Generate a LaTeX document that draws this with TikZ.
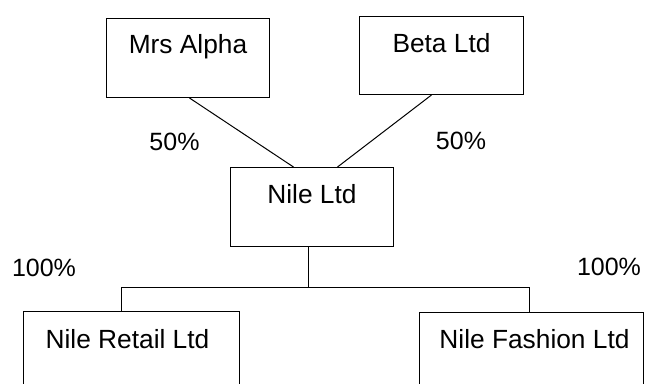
\documentclass[tikz,border=0pt]{standalone}
\usepackage{fontspec}
\setmainfont{Liberation Sans}
\usetikzlibrary{calc}
\begin{document}
\begin{tikzpicture}[x=1pt,y=-1pt,
  box/.style={draw=black, line width=1pt, rectangle, inner sep=0pt, anchor=north west},
  txt/.style={anchor=base, inner sep=0pt, font=\fontsize{26.3}{30}\selectfont},
  pct/.style={anchor=base, inner sep=0pt, font=\fontsize{25}{30}\selectfont},
  conn/.style={draw=black, line width=1pt}]
\useasboundingbox (0,0) rectangle (645,383);
\clip (0,0) rectangle (645,383);
% boxes
\node[box, minimum width=163pt, minimum height=79pt] (alpha) at (106,18) {};
\node[box, minimum width=164pt, minimum height=78pt] (beta) at (359,16) {};
\node[box, minimum width=163pt, minimum height=79pt] (nile) at (230,167) {};
\node[box, minimum width=216pt, minimum height=100pt] (retail) at (23,311) {};
\node[box, minimum width=224pt, minimum height=100pt] (fashion) at (419,312) {};
% box texts
\node[txt] (alphaT) at ($(alpha.north)+(0,35)$) {Mrs Alpha};
\node[txt] (betaT) at ($(beta.north)+(0,36)$) {Beta Ltd};
\node[txt] (nileT) at ($(nile.north)+(0,36)$) {Nile Ltd};
\node[txt] (retailT) at ($(retail.north)+(-4,37)$) {Nile Retail Ltd};
\node[txt] (fashionT) at ($(fashion.north)+(3,36)$) {Nile Fashion Ltd};
% percentages
\node[pct] (pA) at (174.5,150) {50\%};
\node[pct] (pB) at (461,149) {50\%};
\node[pct] (pR) at (44,276) {100\%};
\node[pct] (pF) at (609,275) {100\%};
% connectors
\draw[conn] ($(alpha.south)+(1.5,0)$) -- ($(nile.north)+(-18.5,0)$);
\draw[conn] ($(beta.south)+(-10,0)$) -- ($(nile.north)+(25.5,0)$);
\coordinate (busL) at (121,287);
\coordinate (busR) at (529,287);
\coordinate (busM) at ($(nile.south)+(-3.5,0)$);
\draw[conn] (busM) -- (busM |- busL);
\draw[conn] (busL |- retail.north) -- (busL) -- (busR) -- (busR |- fashion.north);
\end{tikzpicture}
\end{document}
